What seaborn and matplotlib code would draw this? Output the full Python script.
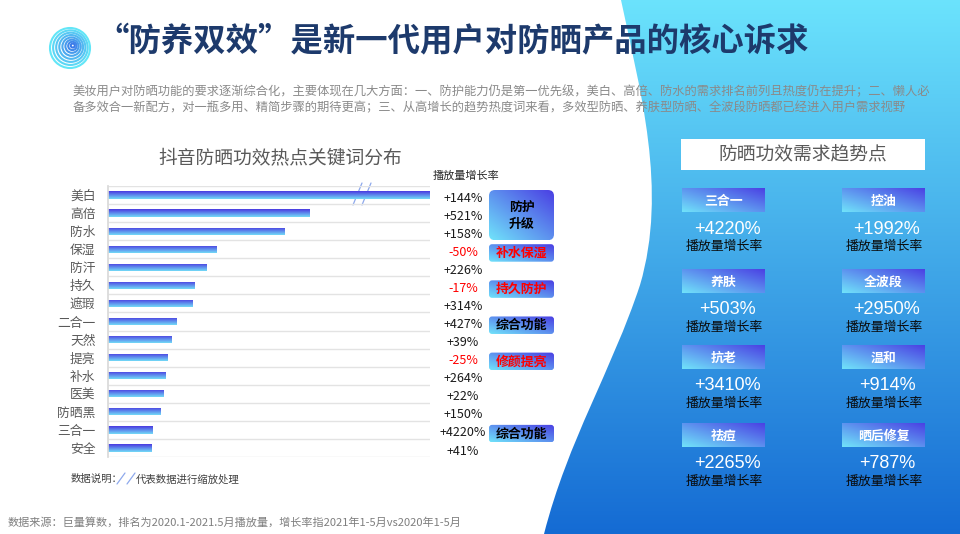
import numpy as np
import matplotlib
matplotlib.use("Agg")
import matplotlib.pyplot as plt
from matplotlib.path import Path
from matplotlib.patches import PathPatch, FancyBboxPatch, Rectangle, Circle
from matplotlib.transforms import blended_transform_factory
import seaborn as sns
import pandas as pd

sns.set_theme(style="white")
plt.rcParams['font.family'] = ['Noto Sans CJK SC', 'DejaVu Sans']

# data: douyin keyword ranking (bar length = relative play volume, 美白 is scaled down)
keywords = ["美白", "高倍", "防水", "保湿", "防汗", "持久", "遮瑕", "二合一",
            "天然", "提亮", "补水", "医美", "防晒黑", "三合一", "安全"]
play_index = [322, 202, 177, 109, 99, 87, 85, 69, 64, 60, 58, 56, 53, 45, 44]
growth = [144, 521, 158, -50, 226, -17, 314, 427, 39, -25, 264, 22, 150, 4220, 41]

tag_text = ["防护\n升级", "补水保湿", "持久防护", "综合功能", "修颜提亮", "综合功能"]
tag_first = [0, 3, 5, 7, 9, 13]
tag_last = [2, 3, 5, 7, 9, 13]
tag_red = [False, True, True, False, True, False]

trend_names = ["三合一", "控油", "养肤", "全波段", "抗老", "温和", "祛痘", "晒后修复"]
trend_growth = [4220, 1992, 503, 2950, 3410, 914, 2265, 787]

title = "“防养双效”是新一代用户对防晒产品的核心诉求"
intro = ["美妆用户对防晒功能的要求逐渐综合化，主要体现在几大方面：一、防护能力仍是第一优先级，美白、高倍、防水的需求排名前列且热度仍在提升；二、懒人必",
         "备多效合一新配方，对一瓶多用、精简步骤的期待更高；三、从高增长的趋势热度词来看，多效型防晒、养肤型防晒、全波段防晒都已经进入用户需求视野"]
source = "数据来源：巨量算数，排名为2020.1-2021.5月播放量，增长率指2021年1-5月vs2020年1-5月"

CYAN = np.array([0.44, 0.89, 0.98])
VIOLET = np.array([0.29, 0.24, 0.89])


def grad_img(n=64, diagonal=True, c0=CYAN, c1=VIOLET):
    u = np.linspace(0, 1, n)
    U, V = np.meshgrid(u, u)
    t = (U + 1 - V) / 2 if diagonal else V
    return c0 * (1 - t)[..., None] + c1 * t[..., None]


def grad_box(axis, x0, y0, w, h, rad=0.0, z=3):
    if rad > 0:
        p = FancyBboxPatch((x0, y0), w, h, boxstyle=f"round,pad=0,rounding_size={rad}",
                           fc="none", ec="none", zorder=z)
    else:
        p = Rectangle((x0, y0), w, h, fc="none", ec="none", zorder=z)
    axis.add_patch(p)
    im = axis.imshow(grad_img(), extent=(x0, x0 + w, y0 + h, y0), origin="upper",
                     aspect="auto", zorder=z, interpolation="bilinear")
    im.set_clip_path(p)


fig = plt.figure(figsize=(9.6, 5.34), dpi=100)
bg = fig.add_axes([0, 0, 1, 1], zorder=0)
bg.axis("off")

# right side gradient background with curved edge
verts = [(621, 0), (640, 90), (668, 190), (640, 285),
         (612, 370), (568, 440), (544, 534),
         (960, 534), (960, 0), (621, 0)]
codes = [Path.MOVETO, Path.CURVE4, Path.CURVE4, Path.CURVE4,
         Path.CURVE4, Path.CURVE4, Path.CURVE4,
         Path.LINETO, Path.LINETO, Path.CLOSEPOLY]
shape = PathPatch(Path(verts, codes), fc="none", ec="none")
bg.add_patch(shape)
v = np.linspace(0, 1, 256)[:, None, None]
top_c = np.array([0.42, 0.89, 0.99])
bot_c = np.array([0.08, 0.42, 0.83])
bg_img = top_c * (1 - v) + bot_c * v
im = bg.imshow(bg_img, extent=(0, 960, 534, 0), origin="upper", aspect="auto", zorder=0)
im.set_clip_path(shape)

# logo
ring_cols = sns.blend_palette(["#62e6f7", "#3b7ae8"], 8)
for k, r in enumerate([20, 17.3, 14.6, 11.9, 9.2, 6.6, 4.2, 2.0]):
    bg.add_patch(Circle((70 + k * 0.4, 48 - k * 0.35), r, fill=False,
                        ec=ring_cols[k], lw=1.5, zorder=2))

bg.text(96, 42, title, fontsize=23.3, fontweight="bold", color="#1d3a6c", va="center", ha="left")
for i, line in enumerate(intro):
    bg.text(73, 92 + i * 15.5, line, fontsize=8.85, color="#8a8a8a", va="center", ha="left")

bg.text(280, 158, "抖音防晒功效热点关键词分布", fontsize=13.5, color="#595959", ha="center", va="center")
bg.text(466, 176, "播放量增长率", fontsize=8, color="#262626", ha="center", va="center")

# bar chart
ax = fig.add_axes([108 / 960, 1 - 457 / 534, 322 / 960, 271 / 534], zorder=1)
ax.set_facecolor("none")
df = pd.DataFrame({"keyword": keywords, "play": play_index})
sns.barplot(data=df, x="play", y="keyword", orient="h", ax=ax, width=0.4, color="#4a3ce0")
bar_grad = grad_img(diagonal=False, c0=np.array([0.29, 0.22, 0.88]), c1=np.array([0.45, 0.86, 0.97]))
for p in list(ax.patches):
    x, y, w, h = p.get_x(), p.get_y(), p.get_width(), p.get_height()
    p.set_facecolor("none")
    p.set_edgecolor("none")
    gi = ax.imshow(bar_grad, extent=(x, x + w, y + h, y), origin="upper",
                   aspect="auto", zorder=2, interpolation="bilinear")
    gi.set_clip_path(p)
ax.hlines(np.arange(-0.5, len(keywords)), 0, 322, color="#e3e3e3", lw=1, zorder=1)
ax.set_xlim(0, 322)
ax.set_ylim(len(keywords) - 0.5, -0.5)
ax.set_xlabel("")
ax.set_ylabel("")
ax.set_xticks([])
ax.tick_params(axis="y", length=0, pad=9, labelsize=9.2, labelcolor="#595959")
for s in ["top", "right", "bottom"]:
    ax.spines[s].set_visible(False)
ax.spines["left"].set_color("#d9d9d9")

# scale break marks on the first bar
for dx in (0, 9):
    bg.plot([353 + dx, 362 + dx], [205, 183], color="#8ea9ec", lw=0.9, zorder=5)

# growth column
tr = blended_transform_factory(bg.transData, ax.transData)
for i, g in enumerate(growth):
    ax.text(463, i + 0.17, f"{g:+d}%", transform=tr, fontsize=9, ha="center", va="center",
            color="#ff0000" if g < 0 else "#1a1a1a", clip_on=False)

# tags
row_h = 271 / len(keywords)
for txt, a, b, red in zip(tag_text, tag_first, tag_last, tag_red):
    n = b - a + 1
    y0 = 186 + a * row_h + 4
    h = max(17.5, n * row_h - 4)
    grad_box(bg, 489, y0, 65, h, rad=6 if n > 1 else 3)
    bg.text(521.5, y0 + h / 2, txt, fontsize=9.3, fontweight="bold", ha="center", va="center",
            color="#ff0000" if red else "#000000", linespacing=1.3, zorder=6)

# note
bg.text(71, 479, "数据说明：", fontsize=7.5, color="#404040", va="center")
for dx in (0, 10):
    bg.plot([117 + dx, 125 + dx], [484, 473], color="#8ea9ec", lw=0.9)
bg.text(136, 479, "代表数据进行缩放处理", fontsize=7.5, color="#404040", va="center")
bg.text(8, 522, source, fontsize=8, color="#7f7f7f", va="center")

# right panel
bg.add_patch(Rectangle((681, 139), 244, 31, fc="white", ec="none", zorder=3))
bg.text(803, 155, "防晒功效需求趋势点", fontsize=13.5, color="#595959", ha="center", va="center", zorder=4)
col_x = [682, 842]
row_y = [188, 269, 345, 423]
for k, (name, g) in enumerate(zip(trend_names, trend_growth)):
    cx, ry = col_x[k % 2], row_y[k // 2]
    grad_box(bg, cx, ry, 83, 24.5)
    bg.text(cx + 41.5, ry + 12.5, name, fontsize=9.3, fontweight="bold", color="white",
            ha="center", va="center", zorder=6)
    bg.text(cx + 45, ry + 41, f"+{g}%", fontsize=13, color="white", ha="center", va="center",
            family=["Liberation Sans", "DejaVu Sans"], zorder=6)
    bg.text(cx + 42, ry + 58, "播放量增长率", fontsize=9.3, color="#0a0a0a", ha="center", va="center", zorder=6)

bg.set_xlim(0, 960)
bg.set_ylim(534, 0)

fig.savefig("out.png", dpi=100)
